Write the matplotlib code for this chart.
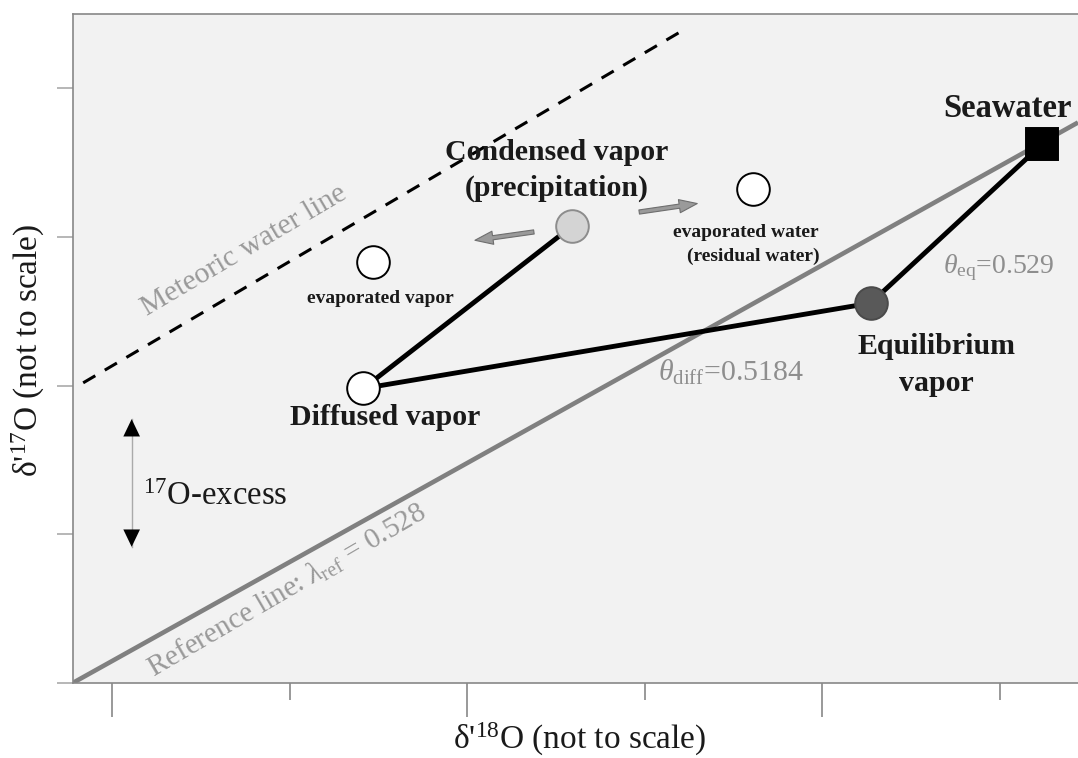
import matplotlib
matplotlib.use("Agg")
import matplotlib.pyplot as plt

plt.rcParams['font.family'] = ['Liberation Serif', 'DejaVu Serif']
plt.rcParams['mathtext.fontset'] = 'custom'
plt.rcParams['mathtext.rm'] = 'Liberation Serif'
plt.rcParams['mathtext.it'] = 'Liberation Serif:italic'
plt.rcParams['mathtext.bf'] = 'Liberation Serif:bold'

# ---- data (arbitrary, "not to scale" units) ----
point_names = ["Seawater", "Equilibrium vapor", "Diffused vapor",
               "Condensed vapor", "evaporated vapor", "evaporated water"]
point_x = [6.239, 5.272, 2.415, 3.592, 2.471, 4.611]
point_y = [3.625, 2.555, 1.981, 3.074, 2.833, 3.321]
point_face = ["black", "#595959", "white", "#d4d4d4", "white", "white"]
point_edge = ["black", "#4a4a4a", "black", "#8c8c8c", "black", "black"]
point_marker = ["s", "o", "o", "o", "o", "o"]

# black process path: Seawater -> Equilibrium -> Diffused -> Condensed
path_idx = [0, 1, 2, 3]

ref_x = [0.779, 6.44]
ref_slope = 0.666
mwl_x = [0.838, 4.215]
mwl_y = [2.019, 4.39]

arrow_left = [(3.376, 3.034), (3.044, 2.978)]
arrow_right = [(3.969, 3.168), (4.296, 3.225)]
excess_x = 1.111
excess_y = [0.916, 1.775]

x_major = [1, 3, 5]
x_minor = [2, 4, 6]
y_ticks = [0, 1, 2, 3, 4]
xlim = (0.779, 6.44)
ylim = (0, 4.5)

W, H = 1078, 758
fig = plt.figure(figsize=(W / 100, H / 100), dpi=100)
ax = fig.add_axes([72.7 / W, 75 / H, (W - 72.7) / W, 669 / H])
ax.set_facecolor("#f2f2f2")
ax.set_xlim(*xlim)
ax.set_ylim(*ylim)

gray_sp = "#888888"
for s in ["left", "bottom", "top"]:
    ax.spines[s].set_color(gray_sp)
    ax.spines[s].set_linewidth(1.2)
ax.spines["right"].set_visible(False)

ax.set_xticks(x_major)
ax.set_xticks(x_minor, minor=True)
ax.set_yticks(y_ticks)
ax.set_xticklabels([])
ax.set_yticklabels([])
ax.tick_params(axis="x", which="major", direction="out", length=24.5, width=1.2, color=gray_sp)
ax.tick_params(axis="x", which="minor", direction="out", length=12, width=1.2, color=gray_sp)
ax.tick_params(axis="y", which="major", direction="out", length=11.5, width=1.2, color="#aaaaaa")

# reference line
ref_y = [0, ref_slope * (ref_x[1] - ref_x[0])]
ax.plot(ref_x, ref_y, color="#808080", lw=3.3, solid_capstyle="butt", zorder=2)

# meteoric water line (dashed)
ax.plot(mwl_x, mwl_y, color="black", lw=2.2, dashes=(4.6, 3.6), zorder=2)

# process lines
ax.plot([point_x[i] for i in path_idx], [point_y[i] for i in path_idx],
        color="black", lw=3.5, solid_capstyle="round", solid_joinstyle="round", zorder=3)

# points
for x, y, fc, ec, m in zip(point_x, point_y, point_face, point_edge, point_marker):
    ms = 23 if m == "s" else 23.5
    ax.plot([x], [y], marker=m, ms=ms, mfc=fc, mec=ec, mew=1.4, ls="none", zorder=4)

# gray transport arrows
for (x0, y0), (x1, y1) in [arrow_left, arrow_right]:
    ax.annotate("", xy=(x1, y1), xytext=(x0, y0),
                arrowprops=dict(arrowstyle="simple,head_length=1.3,head_width=0.95,tail_width=0.3",
                                fc="#9a9a9a", ec="#6e6e6e", lw=0.8, shrinkA=0, shrinkB=0),
                zorder=3)

# 17O-excess double arrow
ax.plot([excess_x, excess_x], excess_y, color="#aaaaaa", lw=1.0, zorder=2)
ax.annotate("", xy=(excess_x, excess_y[1]), xytext=(0, -13), textcoords="offset points",
            arrowprops=dict(arrowstyle="-|>,head_length=1.25,head_width=0.6", color="black",
                            lw=0, shrinkA=0, shrinkB=0))
ax.annotate("", xy=(excess_x, excess_y[0]), xytext=(0, 13), textcoords="offset points",
            arrowprops=dict(arrowstyle="-|>,head_length=1.25,head_width=0.6", color="black",
                            lw=0, shrinkA=0, shrinkB=0))
ax.text(1.175, 1.25, r"$^{17}$O-excess", fontsize=23.5, ha="left", va="center", color="#1a1a1a")

# labels
bold = dict(fontweight="bold", color="#1a1a1a", ha="center", va="center")
ax.text(6.045, 3.866, "Seawater", fontsize=23.5, **bold)
ax.text(3.506, 3.570, "Condensed vapor", fontsize=21.5, **bold)
ax.text(3.506, 3.328, "(precipitation)", fontsize=21.5, **bold)
ax.text(2.537, 1.788, "Diffused vapor", fontsize=21.5, **bold)
ax.text(5.645, 2.266, "Equilibrium", fontsize=21.5, **bold)
ax.text(5.645, 2.017, "vapor", fontsize=21.5, **bold)
ax.text(2.509, 2.588, "evaporated vapor", fontsize=14, **bold)
ax.text(4.570, 3.032, "evaporated water", fontsize=14, **bold)
ax.text(4.610, 2.871, "(residual water)", fontsize=14, **bold)

tgray = "#8e8e8e"
ax.text(5.679, 2.797, r"$\theta_{\rm eq}$=0.529", fontsize=20, color=tgray, ha="left", va="center")
ax.text(4.074, 2.091, r"$\theta_{\rm diff}$=0.5184", fontsize=21.5, color=tgray, ha="left", va="center")
ax.text(1.745, 2.905, "Meteoric water line", fontsize=21.5, color="#999999", rotation=30.5,
        ha="center", va="center", rotation_mode="anchor")
ax.text(1.985, 0.625, r"Reference line: $\lambda_{\rm ref}$ = 0.528", fontsize=21, color="#999999",
        rotation=30.3, ha="center", va="center", rotation_mode="anchor")

fig.text(580 / W, 1 - 739 / H, r"δ'$^{18}$O (not to scale)", fontsize=24, ha="center", va="center",
         color="#1a1a1a")
fig.text(28 / W, 1 - 350 / H, r"δ'$^{17}$O (not to scale)", fontsize=24, ha="center", va="center",
         rotation=90, color="#1a1a1a")

fig.savefig("out.png", dpi=100, facecolor="white")
